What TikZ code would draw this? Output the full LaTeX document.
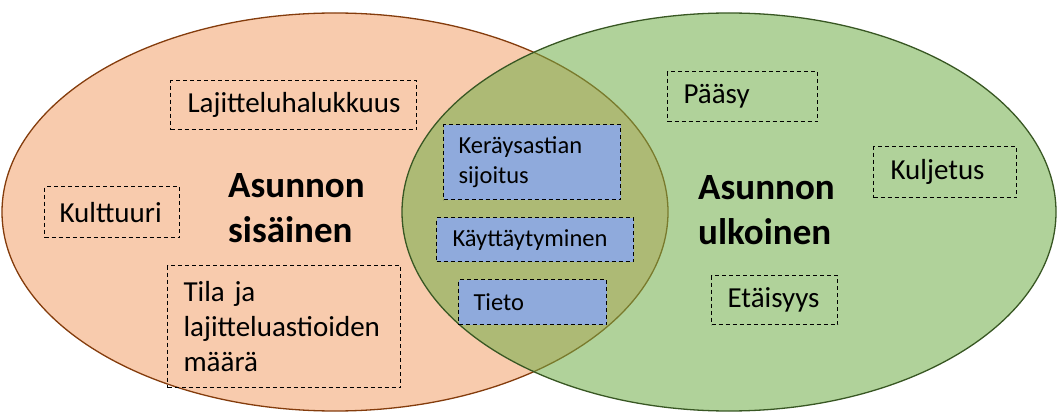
\documentclass[tikz,border=0pt]{standalone}
\usepackage{fontspec}
\setmainfont{Carlito}
\hyphenpenalty=10000
\definecolor{orfill}{HTML}{F8CBAD}
\definecolor{ordraw}{HTML}{843C0C}
\definecolor{grfill}{HTML}{70AD47}
\definecolor{grdraw}{HTML}{385723}
\definecolor{blfill}{HTML}{8FAADC}
\tikzset{
  x=1pt, y=-1pt,
  dbox/.style={draw=black, dashed, dash pattern=on 4pt off 3pt, line width=1.1pt, rectangle, anchor=north west,
     inner xsep=0pt, inner ysep=0pt, align=left, font=\fontsize{29}{35}\selectfont},
  bluebox/.style={dbox, fill=blfill, font=\fontsize{24.5}{30}\selectfont},
  title/.style={font=\bfseries\fontsize{37}{45}\selectfont, align=left, anchor=north west, inner sep=0pt}
}
\begin{document}
\begin{tikzpicture}
\useasboundingbox (0,0) rectangle (1057,414);
% ellipses
\draw[fill=orfill, draw=ordraw, line width=1.3pt] (335,212) ellipse [x radius=333, y radius=199];
\draw[fill=grfill, fill opacity=0.55, draw=grdraw, line width=1.3pt] (729,212) ellipse [x radius=327, y radius=199];
% titles
\node[title] (t1) at (228,173) {Asunnon\\sisäinen};
\node[title] (t2) at (698,175) {Asunnon\\ulkoinen};
% left boxes
\node[dbox, minimum width=246, minimum height=49, text width=246] (b1) at (170,80) {\hspace*{17pt}Lajitteluhalukkuus};
\node[dbox, minimum width=135, minimum height=51, text width=135] (b2) at (44,186) {\hspace*{15pt}Kulttuuri};
\node[dbox, minimum width=233, minimum height=122, text width=233] (b3) at (167,265) {\hspace*{16pt}Tila ja\\\hspace*{16pt}lajitteluastioiden\\\hspace*{16pt}määrä};
% middle boxes
\node[bluebox, minimum width=177, minimum height=75, text width=177] (b4) at (443,124) {\hspace*{15pt}Keräysastian\\\hspace*{15pt}sijoitus};
\node[bluebox, minimum width=197, minimum height=44, text width=197] (b5) at (436,217) {\hspace*{16pt}Käyttäytyminen};
\node[bluebox, minimum width=148, minimum height=45, text width=148] (b6) at (458,279) {\hspace*{15pt}Tieto};
% right boxes
\node[dbox, minimum width=150, minimum height=50, text width=150] (b7) at (667,71) {\hspace*{16pt}Pääsy};
\node[dbox, minimum width=143, minimum height=51, text width=143] (b8) at (873,146) {\hspace*{17pt}Kuljetus};
\node[dbox, minimum width=126, minimum height=49, text width=126] (b9) at (711,275) {\hspace*{16pt}Etäisyys};
\end{tikzpicture}
\end{document}
